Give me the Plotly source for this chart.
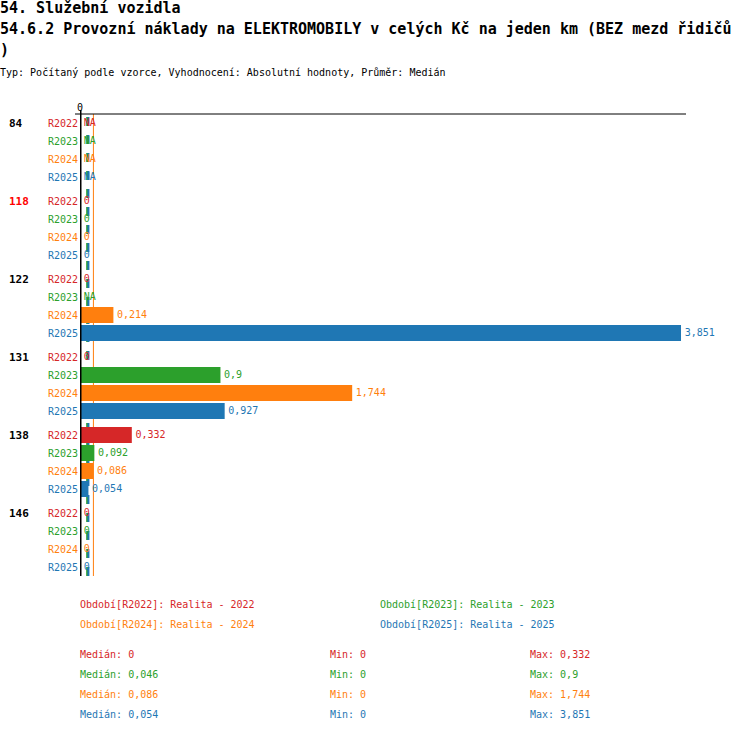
import plotly.graph_objects as go

# data (None = NA)
groups = ["84", "118", "122", "131", "138", "146"]
group_colors = ["black", "red", "black", "black", "black", "black"]
periods = ["R2022", "R2023", "R2024", "R2025"]
period_names = ["Realita - 2022", "Realita - 2023", "Realita - 2024", "Realita - 2025"]
colors = ["#d62728", "#2ca02c", "#ff7f0e", "#1f77b4"]

r2022 = [None, 0, 0, 0, 0.332, 0]
r2023 = [None, 0, None, 0.9, 0.092, 0]
r2024 = [None, 0, 0.214, 1.744, 0.086, 0]
r2025 = [None, 0, 3.851, 0.927, 0.054, 0]
series = [r2022, r2023, r2024, r2025]

medians = [0, 0.046, 0.086, 0.054]
mins = [0, 0, 0, 0]
maxs = [0.332, 0.9, 1.744, 3.851]

title1 = "54. Služební vozidla"
title2 = "54.6.2 Provozní náklady na ELEKTROMOBILY v celých Kč na jeden km (BEZ mezd řidičů"
title3 = ")"
subtitle = "Typ: Počítaný podle vzorce, Vyhodnocení: Absolutní hodnoty, Průměr: Medián"

FONT = "DejaVu Sans Mono"
W, H = 750, 732
L, R, T, B = 80, 686, 114, 576
ROW, GAP = 18, 6


def paper(xp, yp):
    return (xp - L) / (R - L), (B - yp) / (B - T)


def fmt(v):
    if v is None:
        return "NA"
    return ("%g" % v).replace(".", ",")


def ypos(g, k):
    return g * (4 * ROW + GAP) + k * ROW + ROW / 2


fig = go.Figure()
annotations = []
pad = "<span style='font-size:6px'> </span>"

for k, (p, vals, c) in enumerate(zip(periods, series, colors)):
    ys = [ypos(g, k) for g in range(len(groups))]
    fig.add_trace(go.Bar(
        x=[v if v is not None else 0 for v in vals], y=ys, orientation="h",
        width=16, marker=dict(color=c, line=dict(width=0)), showlegend=False))
    fig.add_trace(go.Scatter(
        x=[v if v is not None else 0 for v in vals], y=ys, mode="text",
        text=[pad + fmt(v) for v in vals], textposition="middle right",
        textfont=dict(family=FONT, size=10, color=c), cliponaxis=False,
        showlegend=False))
    for g in range(len(groups)):
        annotations.append(dict(
            x=paper(78, 0)[0], xref="paper", y=ypos(g, k), yref="y",
            text=p, showarrow=False, xanchor="right",
            font=dict(family=FONT, size=10, color=c)))

for g, (name, gc) in enumerate(zip(groups, group_colors)):
    annotations.append(dict(
        x=paper(9, 0)[0], xref="paper", y=ypos(g, 0), yref="y",
        text="<b>%s</b>" % name, showarrow=False, xanchor="left",
        font=dict(family=FONT, size=11, color=gc)))

# titles
for txt, yp, size, bold in [(title1, 8, 15, True), (title2, 29, 15, True),
                            (title3, 50, 15, True), (subtitle, 73, 10, False)]:
    x, y = paper(0, yp)
    annotations.append(dict(
        x=x, y=y, xref="paper", yref="paper", showarrow=False,
        xanchor="left", yanchor="middle",
        text="<b>%s</b>" % txt if bold else txt,
        font=dict(family=FONT, size=size, color="black")))

# period legend
for k, (p, n, c) in enumerate(zip(periods, period_names, colors)):
    x, y = paper([80, 380][k % 2], 604 + 20 * (k // 2))
    annotations.append(dict(
        x=x, y=y, xref="paper", yref="paper", showarrow=False,
        xanchor="left", yanchor="middle", text="Období[%s]: %s" % (p, n),
        font=dict(family=FONT, size=10, color=c)))

# stats
for k, c in enumerate(colors):
    yp = 654 + 20 * k
    for xp, lab, v in [(80, "Medián", medians[k]), (330, "Min", mins[k]),
                       (530, "Max", maxs[k])]:
        x, y = paper(xp, yp)
        annotations.append(dict(
            x=x, y=y, xref="paper", yref="paper", showarrow=False,
            xanchor="left", yanchor="middle", text="%s: %s" % (lab, fmt(v)),
            font=dict(family=FONT, size=10, color=c)))

for a in annotations:
    a["borderpad"] = 0
    a["borderwidth"] = 0

shapes = []
dashes = ["solid", "dash", "solid", "dash"]
widths = [1, 2, 1, 2]
for m, c, d, w in zip(medians, colors, dashes, widths):
    shapes.append(dict(type="line", xref="x", yref="paper", x0=m, x1=m,
                       y0=0, y1=1, layer="below",
                       line=dict(color=c, width=w, dash=d)))
shapes.append(dict(type="line", xref="x", yref="paper", x0=0, x1=0,
                   y0=0, y1=paper(0, 110)[1], line=dict(color="black", width=3)))
shapes.append(dict(type="line", xref="paper", yref="paper", x0=paper(75, 0)[0],
                   x1=1, y0=1, y1=1, line=dict(color="black", width=1)))

fig.update_layout(
    width=W, height=H, margin=dict(l=L, r=W - R, t=T, b=H - B),
    paper_bgcolor="white", plot_bgcolor="white", barmode="overlay",
    annotations=annotations, shapes=shapes,
    xaxis=dict(range=[0, 3.883], side="top", tickvals=[0], ticktext=["0"],
               showgrid=False, zeroline=False, showline=False, ticks="",
               tickfont=dict(family=FONT, size=10, color="black")),
    yaxis=dict(range=[(4 * ROW + GAP) * len(groups) - GAP, 0], showgrid=False,
               zeroline=False, showticklabels=False, showline=False),
)

fig.write_html("out.html", config={"displayModeBar": False},
               post_script="document.body.style.margin='0';")
